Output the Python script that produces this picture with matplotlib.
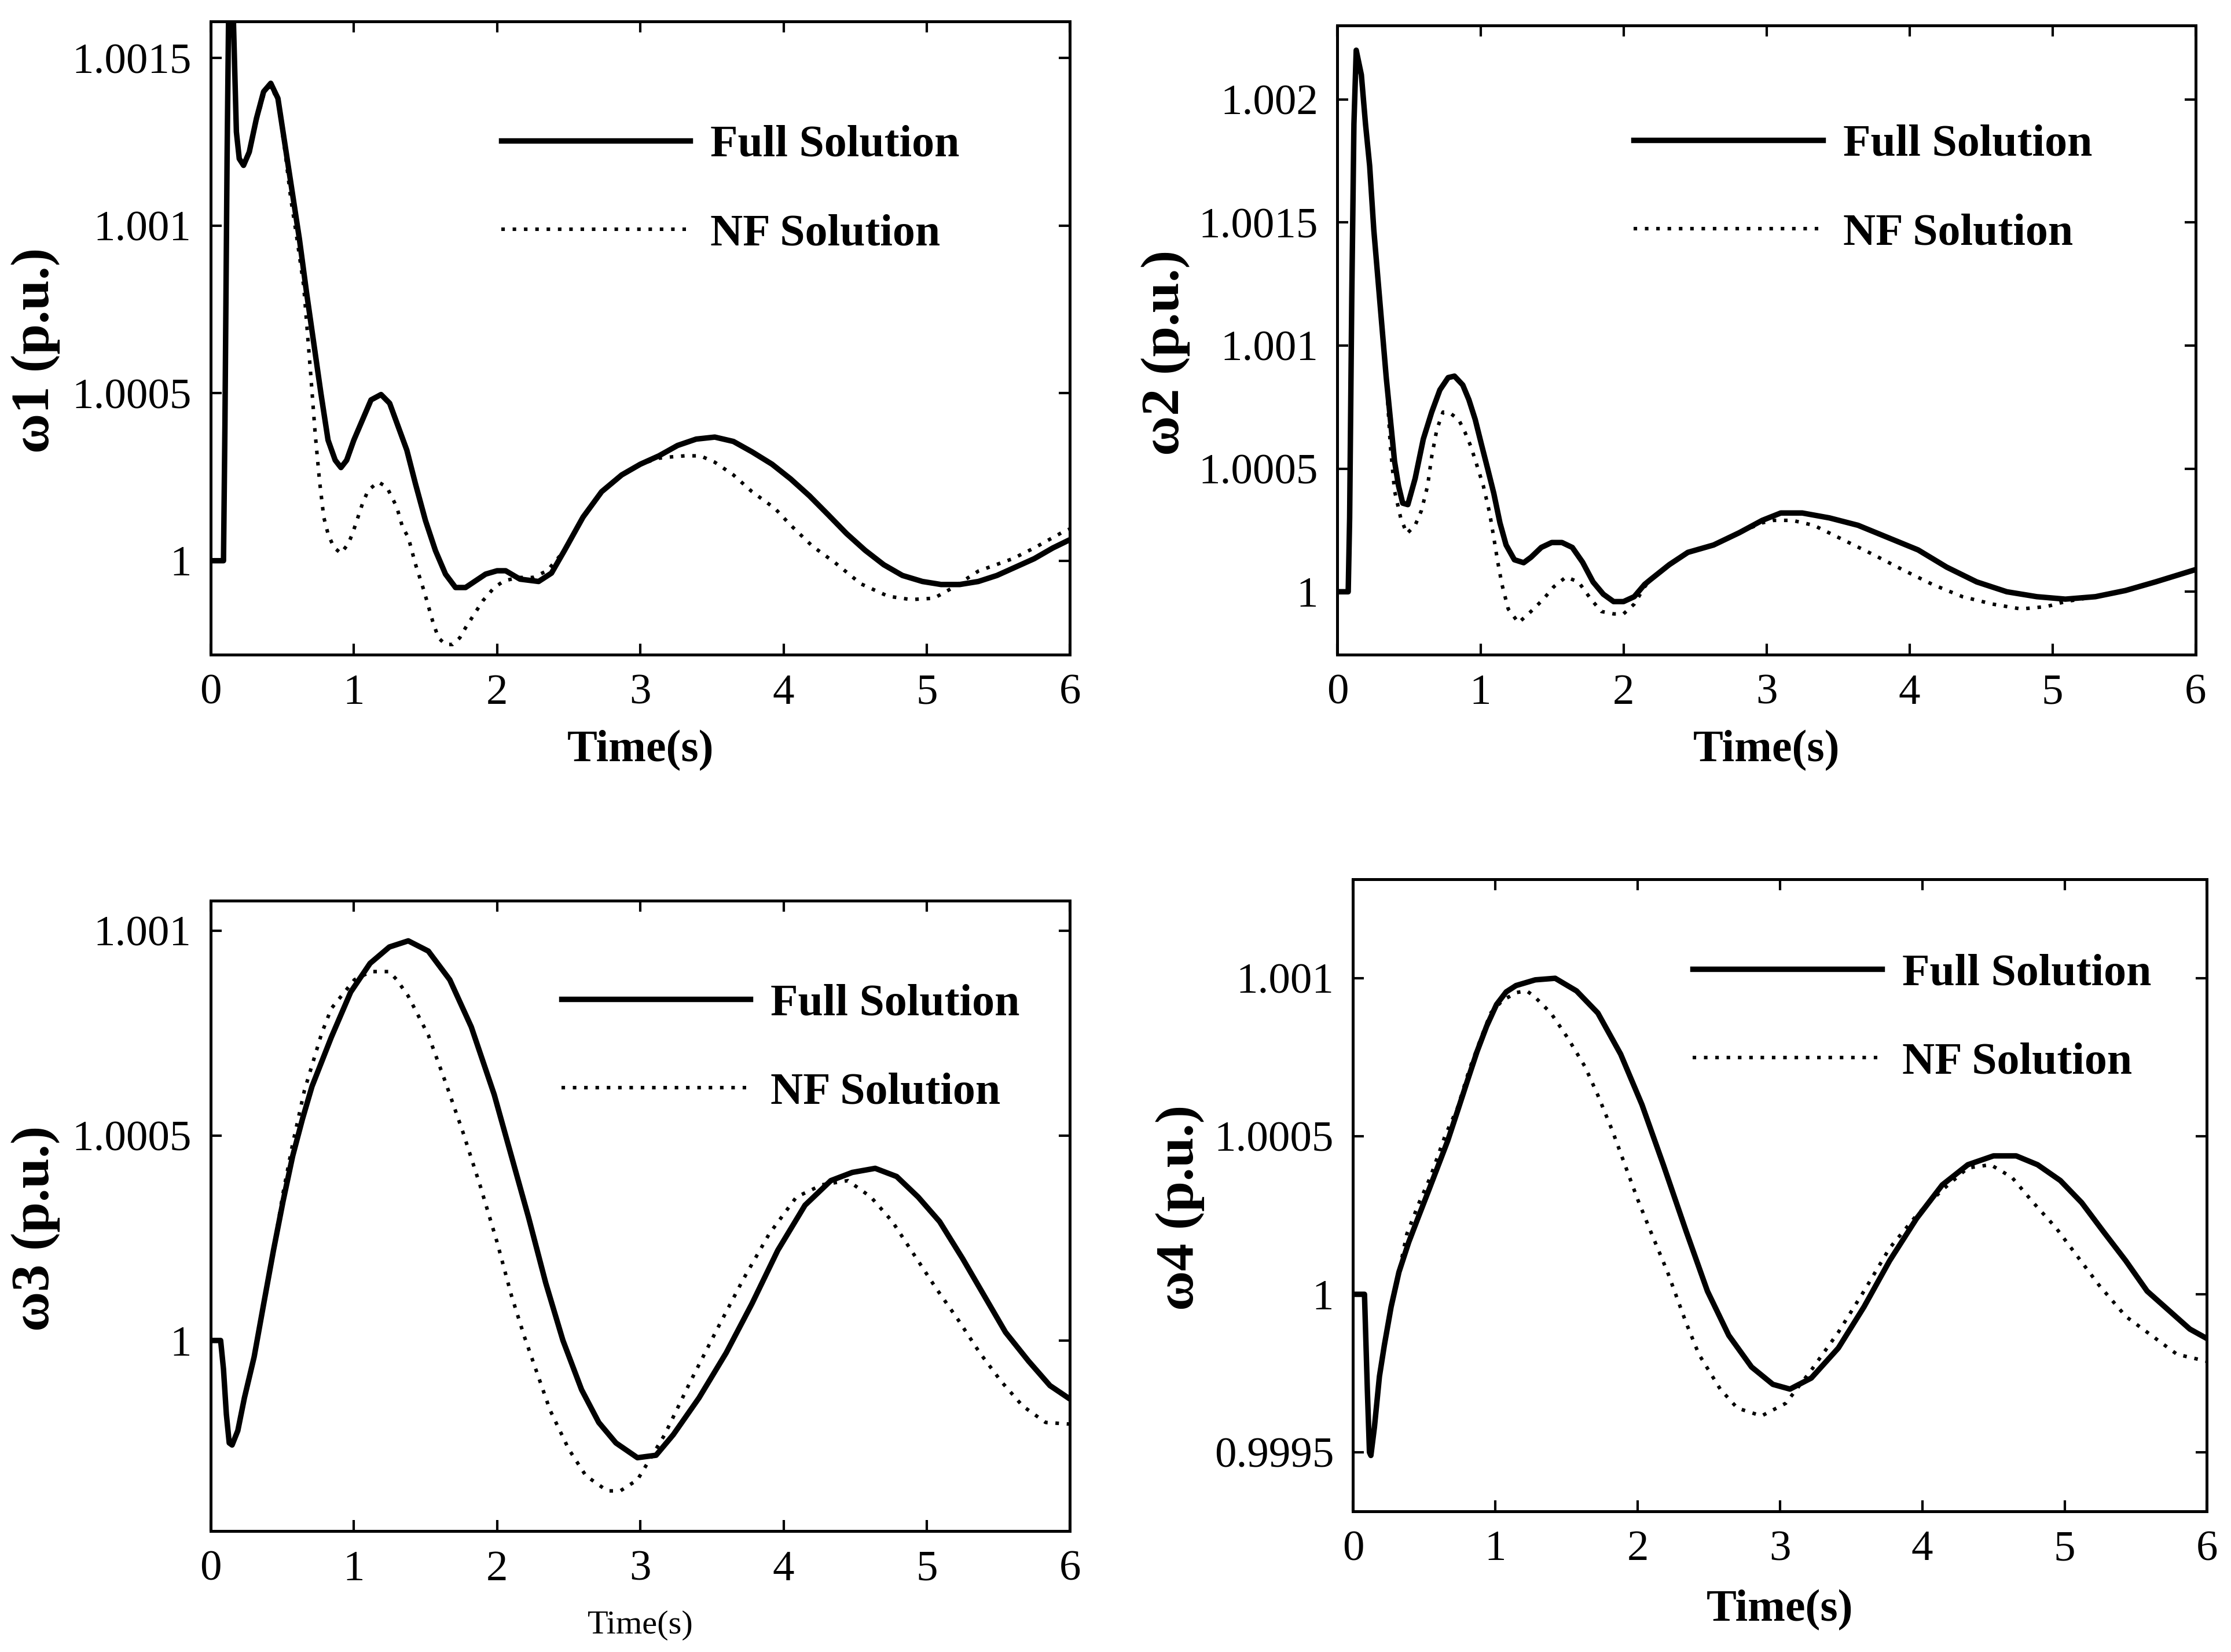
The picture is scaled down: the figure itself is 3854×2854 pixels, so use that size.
import matplotlib
matplotlib.use('Agg')
import matplotlib.pyplot as plt
from matplotlib.ticker import FixedLocator, FixedFormatter

plt.rcParams['font.family'] = ['Liberation Serif', 'DejaVu Serif']

# ---- data (time in s, speed in p.u.) ----
t1_full = [0, 0.09, 0.10, 0.115, 0.13, 0.145, 0.16, 0.18, 0.2, 0.23, 0.27, 0.32, 0.37, 0.42,
           0.47, 0.52, 0.57, 0.62, 0.67, 0.72, 0.77, 0.82, 0.87, 0.91, 0.95, 1.0, 1.06, 1.12,
           1.19, 1.25, 1.31, 1.37, 1.43, 1.5, 1.57, 1.64, 1.71, 1.78, 1.85, 1.92, 2.0, 2.06,
           2.16, 2.29, 2.38, 2.47, 2.6, 2.73, 2.87, 3.0, 3.13, 3.26, 3.39, 3.52, 3.65, 3.78,
           3.92, 4.05, 4.18, 4.31, 4.44, 4.57, 4.7, 4.83, 4.97, 5.1, 5.23, 5.36, 5.49, 5.62,
           5.75, 5.88, 6.0]
w1_full = [1.0, 1.0, 1.0004, 1.0012, 1.0018, 1.0019, 1.0016, 1.00128, 1.0012, 1.00118, 1.00122,
           1.00132, 1.0014, 1.001425, 1.00138, 1.00124, 1.0011, 1.00096, 1.0008, 1.00065,
           1.0005, 1.00036, 1.0003, 1.000278, 1.0003, 1.00036, 1.00042, 1.00048, 1.000496,
           1.00047, 1.0004, 1.00033, 1.00023, 1.00012, 1.00003, 0.99996, 0.99992, 0.99992,
           0.99994, 0.99996, 0.99997, 0.99997, 0.999945, 0.999938, 0.999963, 1.00003, 1.00013,
           1.000206, 1.000256, 1.000288, 1.000313, 1.000344, 1.000363, 1.000369, 1.000356,
           1.000325, 1.000288, 1.000244, 1.000194, 1.000138, 1.000081, 1.000031, 0.999988,
           0.999956, 0.999938, 0.999929, 0.999929, 0.999938, 0.999956, 0.999981, 1.000006,
           1.000038, 1.000063]
t1_nf = [0, 0.09, 0.10, 0.115, 0.13, 0.145, 0.16, 0.18, 0.2, 0.23, 0.27, 0.32, 0.37, 0.42,
         0.47, 0.52, 0.56, 0.6, 0.65, 0.7, 0.73, 0.76, 0.79, 0.82, 0.86, 0.91, 0.96, 0.99, 1.06,
         1.1, 1.17, 1.23, 1.3, 1.34, 1.38, 1.43, 1.49, 1.55, 1.59, 1.64, 1.69, 1.74, 1.78, 1.84,
         1.9, 1.98, 2.05, 2.15, 2.25, 2.35, 2.47, 2.6, 2.73, 2.87, 3.0, 3.13, 3.22, 3.31, 3.42,
         3.52, 3.65, 3.78, 3.94, 4.05, 4.2, 4.36, 4.54, 4.73, 4.89, 5.05, 5.18, 5.36, 5.6,
         5.75, 5.96, 6.0]
w1_nf = [1.0, 1.0, 1.0004, 1.0012, 1.0018, 1.0019, 1.0016, 1.00128, 1.0012, 1.00118, 1.00122,
         1.00131, 1.00139, 1.00142, 1.00137, 1.00122, 1.00108, 1.00097, 1.00082, 1.00055,
         1.00038, 1.00024, 1.00013, 1.00008, 1.00004, 1.000022, 1.00005, 1.00008, 1.00017,
         1.00021, 1.000235, 1.00022, 1.00016, 1.0001, 1.00007, 0.99999, 0.99991, 0.99982,
         0.99977, 0.99975, 0.99975, 0.99977, 0.9998, 0.99984, 0.99988, 0.99992, 0.99994,
         0.99995, 0.99995, 0.99997, 1.00003, 1.00013, 1.000206, 1.000256, 1.000288, 1.000306,
         1.00031, 1.000313, 1.000313, 1.000294, 1.000256, 1.000206, 1.000156, 1.000106,
         1.000044, 0.999994, 0.999931, 0.999894, 0.999884, 0.999888, 0.999919, 0.999969,
         1.000006, 1.000038, 1.000088, 1.000095]

t2_full = [0, 0.075, 0.085, 0.1, 0.115, 0.131, 0.167, 0.196, 0.225, 0.254, 0.283, 0.312, 0.341,
           0.37, 0.399, 0.427, 0.456, 0.492, 0.543, 0.6, 0.659, 0.716, 0.774, 0.818, 0.876,
           0.919, 0.963, 1.006, 1.05, 1.093, 1.136, 1.179, 1.237, 1.302, 1.353, 1.425, 1.498,
           1.57, 1.642, 1.714, 1.787, 1.859, 1.931, 2.0, 2.075, 2.148, 2.19, 2.32, 2.45, 2.63,
           2.81, 2.97, 3.1, 3.25, 3.44, 3.64, 3.85, 4.06, 4.26, 4.47, 4.68, 4.89, 5.09, 5.3,
           5.51, 5.72, 6.0]
w2_full = [1.0, 1.0, 1.0003, 1.0012, 1.0019, 1.0022, 1.0021, 1.0019, 1.00173, 1.00147, 1.00127,
           1.00107, 1.00087, 1.0007, 1.00053, 1.00043, 1.00036, 1.000354, 1.00046, 1.00062,
           1.00073, 1.00082, 1.00087, 1.000876, 1.00084, 1.00078, 1.0007, 1.0006, 1.0005,
           1.0004, 1.00028, 1.00019, 1.00013, 1.000118, 1.00014, 1.00018, 1.0002, 1.0002,
           1.00018, 1.00012, 1.00004, 0.99999, 0.99996, 0.99996, 0.99998, 1.00003, 1.00005,
           1.00011, 1.00016, 1.00019, 1.00024, 1.00029, 1.00032, 1.00032, 1.0003, 1.00027,
           1.00022, 1.00017, 1.0001, 1.00004, 1.0, 0.99998, 0.99997, 0.99998, 1.000005,
           1.00004, 1.00009]
t2_nf = [0, 0.075, 0.085, 0.1, 0.115, 0.131, 0.167, 0.196, 0.225, 0.254, 0.283, 0.312, 0.341,
         0.37, 0.399, 0.442, 0.485, 0.543, 0.587, 0.63, 0.659, 0.695, 0.738, 0.789, 0.847,
         0.89, 0.933, 0.977, 1.02, 1.064, 1.093, 1.121, 1.15, 1.194, 1.266, 1.353, 1.44, 1.512,
         1.598, 1.685, 1.772, 1.845, 1.931, 2.0, 2.075, 2.148, 2.19, 2.32, 2.45, 2.63, 2.81,
         2.97, 3.05, 3.18, 3.33, 3.54, 3.75, 3.95, 4.16, 4.37, 4.58, 4.78, 4.96, 5.09, 5.3,
         5.51, 5.72, 6.0]
w2_nf = [1.0, 1.0, 1.0003, 1.0012, 1.0019, 1.0022, 1.0021, 1.0019, 1.00173, 1.00147, 1.00127,
         1.00107, 1.00087, 1.00059, 1.00041, 1.0003, 1.000236, 1.00027, 1.00033, 1.00043,
         1.00055, 1.00066, 1.00073, 1.000725, 1.0007, 1.00065, 1.00059, 1.00051, 1.00043,
         1.00032, 1.00022, 1.00012, 1.00003, 0.99993, 0.999874, 0.99992, 0.99997, 1.00002,
         1.00006, 1.00004, 0.99997, 0.99992, 0.99991, 0.99991, 0.99995, 1.00002, 1.00005,
         1.00011, 1.00016, 1.00019, 1.00024, 1.00028, 1.00029, 1.00029, 1.00027, 1.00021,
         1.00015, 1.00009, 1.00003, 0.99998, 0.99995, 0.99993, 0.99994, 0.99996, 0.99998,
         1.000005, 1.00004, 1.00009]

t3_full = [0, 0.07, 0.09, 0.11, 0.13, 0.15, 0.19, 0.236, 0.304, 0.371, 0.439, 0.506, 0.573,
           0.641, 0.708, 0.843, 0.978, 1.113, 1.248, 1.38, 1.52, 1.67, 1.82, 1.98, 2.1, 2.22,
           2.34, 2.46, 2.59, 2.71, 2.83, 2.98, 3.11, 3.23, 3.41, 3.6, 3.78, 3.96, 4.15, 4.33,
           4.48, 4.64, 4.79, 4.94, 5.09, 5.25, 5.4, 5.55, 5.71, 5.86, 6.0]
w3_full = [1.0, 1.0, 0.99993, 0.99982, 0.99975, 0.999745, 0.99978, 0.99986, 0.99996, 1.00009,
           1.00022, 1.00034, 1.00045, 1.00054, 1.00062, 1.00074, 1.00085, 1.00092, 1.00096,
           1.000975, 1.00095, 1.00088, 1.000765, 1.0006, 1.00045, 1.0003, 1.00014, 1.0,
           0.99988, 0.9998, 0.99975, 0.999714, 0.99972, 0.99977, 0.99986, 0.99997, 1.00009,
           1.00022, 1.00033, 1.00039, 1.00041, 1.00042, 1.0004, 1.00035, 1.00029, 1.0002,
           1.00011, 1.00002, 0.99995, 0.99989, 0.999857]
t3_nf = [0, 0.07, 0.09, 0.11, 0.13, 0.15, 0.19, 0.236, 0.304, 0.371, 0.439, 0.506, 0.573,
         0.655, 0.776, 0.843, 1.004, 1.12, 1.247, 1.3, 1.38, 1.52, 1.64, 1.76, 1.88, 2.0, 2.1,
         2.19, 2.28, 2.37, 2.5, 2.62, 2.77, 2.86, 2.98, 3.17, 3.35, 3.54, 3.72, 3.9, 4.09,
         4.27, 4.45, 4.61, 4.76, 4.91, 5.06, 5.22, 5.37, 5.52, 5.67, 5.83, 6.0]
w3_nf = [1.0, 1.0, 0.99993, 0.99982, 0.99975, 0.999745, 0.99978, 0.99986, 0.99996, 1.00009,
         1.00022, 1.00036, 1.00048, 1.00061, 1.00075, 1.00081, 1.00088, 1.0009, 1.0009,
         1.00088, 1.00084, 1.000745, 1.00063, 1.00051, 1.00038, 1.00024, 1.00011, 1.00001,
         0.99992, 0.99983, 0.999735, 0.99967, 0.999633, 0.999633, 0.99966, 0.99977, 0.9999,
         1.00003, 1.00015, 1.00026, 1.00035, 1.00038, 1.00039, 1.00035, 1.00029, 1.00021,
         1.00013, 1.00005, 0.99997, 0.9999, 0.99984, 0.9998, 0.999796]

t4_full = [0, 0.08, 0.09, 0.1, 0.115, 0.125, 0.15, 0.185, 0.22, 0.267, 0.322, 0.391, 0.459,
           0.528, 0.597, 0.665, 0.734, 0.802, 0.871, 0.939, 1.008, 1.076, 1.145, 1.28, 1.42,
           1.57, 1.72, 1.88, 2.03, 2.18, 2.34, 2.49, 2.64, 2.8, 2.95, 3.07, 3.22, 3.41, 3.59,
           3.77, 3.96, 4.14, 4.32, 4.5, 4.66, 4.81, 4.97, 5.12, 5.27, 5.43, 5.58, 5.73, 5.88,
           6.0]
w4_full = [1.0, 1.0, 0.99985, 0.9997, 0.9995, 0.99949, 0.99958, 0.99974, 0.99984, 0.99996,
           1.00007, 1.000165, 1.000245, 1.000325, 1.000406, 1.000486, 1.00058, 1.000674,
           1.000768, 1.000849, 1.000917, 1.000957, 1.000977, 1.000995, 1.001, 1.00096,
           1.00089, 1.00076, 1.0006, 1.00041, 1.0002, 1.00001, 0.99987, 0.99977, 0.999715,
           0.9997, 0.999735, 0.99983, 0.99996, 1.000106, 1.00024, 1.000346, 1.00041, 1.000438,
           1.000438, 1.00041, 1.00036, 1.00029, 1.0002, 1.000106, 1.00001, 0.99995, 0.99989,
           0.99986]
t4_nf = [0, 0.08, 0.09, 0.1, 0.115, 0.125, 0.15, 0.185, 0.22, 0.267, 0.322, 0.377, 0.459,
         0.542, 0.645, 0.734, 0.816, 0.898, 0.967, 1.05, 1.15, 1.22, 1.27, 1.39, 1.51, 1.63,
         1.72, 1.82, 1.91, 2.0, 2.09, 2.21, 2.34, 2.43, 2.58, 2.7, 2.87, 3.04, 3.22, 3.41,
         3.59, 3.77, 3.96, 4.14, 4.32, 4.48, 4.63, 4.78, 4.94, 5.09, 5.24, 5.43, 5.61, 5.79,
         6.0]
w4_nf = [1.0, 1.0, 0.99985, 0.9997, 0.9995, 0.99949, 0.99958, 0.99974, 0.99984, 0.99996,
         1.00007, 1.00019, 1.000285, 1.00037, 1.0005, 1.00059, 1.00071, 1.00081, 1.00089,
         1.00093, 1.000955, 1.00096, 1.000944, 1.00089, 1.00081, 1.00072, 1.00063, 1.00052,
         1.00041, 1.0003, 1.0002, 1.00007, 0.99991, 0.99981, 0.9997, 0.99964, 0.999615,
         0.999655, 0.99976, 0.99988, 1.00001, 1.000146, 1.00025, 1.00033, 1.0004, 1.00041,
         1.00037, 1.00029, 1.00021, 1.00012, 1.00003, 0.99993, 0.99987, 0.99981, 0.999788]

x_ticks = [0, 1, 2, 3, 4, 5, 6]
y1_ticks = [1.0, 1.0005, 1.001, 1.0015]
y1_labels = ['1', '1.0005', '1.001', '1.0015']
y2_ticks = [1.0, 1.0005, 1.001, 1.0015, 1.002]
y2_labels = ['1', '1.0005', '1.001', '1.0015', '1.002']
y3_ticks = [1.0, 1.0005, 1.001]
y3_labels = ['1', '1.0005', '1.001']
y4_ticks = [0.9995, 1.0, 1.0005, 1.001]
y4_labels = ['0.9995', '1', '1.0005', '1.001']
y_names = ['\u03c91 (p.u.)', '\u03c92 (p.u.)', '\u03c93 (p.u.)', '\u03c94 (p.u.)']
series_names = ['Full Solution', 'NF Solution']


def draw_panel(ax, tf, wf, tn, wn, yticks, ylabels, ylim, yname, legend_at, xlab_y, ylab_x,
               thin_xlabel=False):
    ax.plot(tf, wf, color='black', lw=3.4, label=series_names[0])
    ax.plot(tn, wn, color='black', lw=2.2, linestyle=(0, (1, 2.2)), label=series_names[1])
    ax.set_xlim(0, 6)
    ax.set_ylim(*ylim)
    ax.xaxis.set_major_locator(FixedLocator(x_ticks))
    ax.yaxis.set_major_locator(FixedLocator(yticks))
    ax.yaxis.set_major_formatter(FixedFormatter(ylabels))
    ax.tick_params(direction='in', length=7, width=1.5, labelsize=27, top=True, right=True,
                   pad=12)
    for s in ax.spines.values():
        s.set_linewidth(1.8)
    if thin_xlabel:
        ax.set_xlabel('Time(s)', fontsize=21, fontweight='normal')
    else:
        ax.set_xlabel('Time(s)', fontsize=28, fontweight='bold')
    ax.xaxis.set_label_coords(0.5, xlab_y)
    ax.set_ylabel(yname, fontsize=34, fontweight='bold')
    ax.yaxis.set_label_coords(ylab_x, 0.48)
    ax.legend(loc='center left', bbox_to_anchor=legend_at, frameon=False, borderpad=0,
              borderaxespad=0, handlelength=4.2, handletextpad=0.45, labelspacing=1.05,
              prop={'family': 'Liberation Serif', 'weight': 'bold', 'size': 28})


fig = plt.figure(figsize=(19.27, 14.27), dpi=200)
fig.set_facecolor('white')

ax1 = fig.add_axes([0.0944, 0.6038, 0.3852, 0.3833])
ax2 = fig.add_axes([0.5995, 0.6038, 0.3846, 0.3807])
ax3 = fig.add_axes([0.0944, 0.0732, 0.3852, 0.3816])
ax4 = fig.add_axes([0.6065, 0.0853, 0.3827, 0.3824])

draw_panel(ax1, t1_full, w1_full, t1_nf, w1_nf, y1_ticks, y1_labels, (0.99972, 1.00161),
           y_names[0], (0.338, 0.734), -0.119, -0.175)
draw_panel(ax2, t2_full, w2_full, t2_nf, w2_nf, y2_ticks, y2_labels, (0.999745, 1.0023),
           y_names[1], (0.345, 0.740), -0.12, -0.172)
draw_panel(ax3, t3_full, w3_full, t3_nf, w3_nf, y3_ticks, y3_labels, (0.999535, 1.001073),
           y_names[2], (0.408, 0.766), -0.126, -0.175, thin_xlabel=True)
draw_panel(ax4, t4_full, w4_full, t4_nf, w4_nf, y4_ticks, y4_labels, (0.999314, 1.001313),
           y_names[3], (0.398, 0.780), -0.124, -0.174)

plt.savefig('out.png', dpi=200, facecolor='white')
